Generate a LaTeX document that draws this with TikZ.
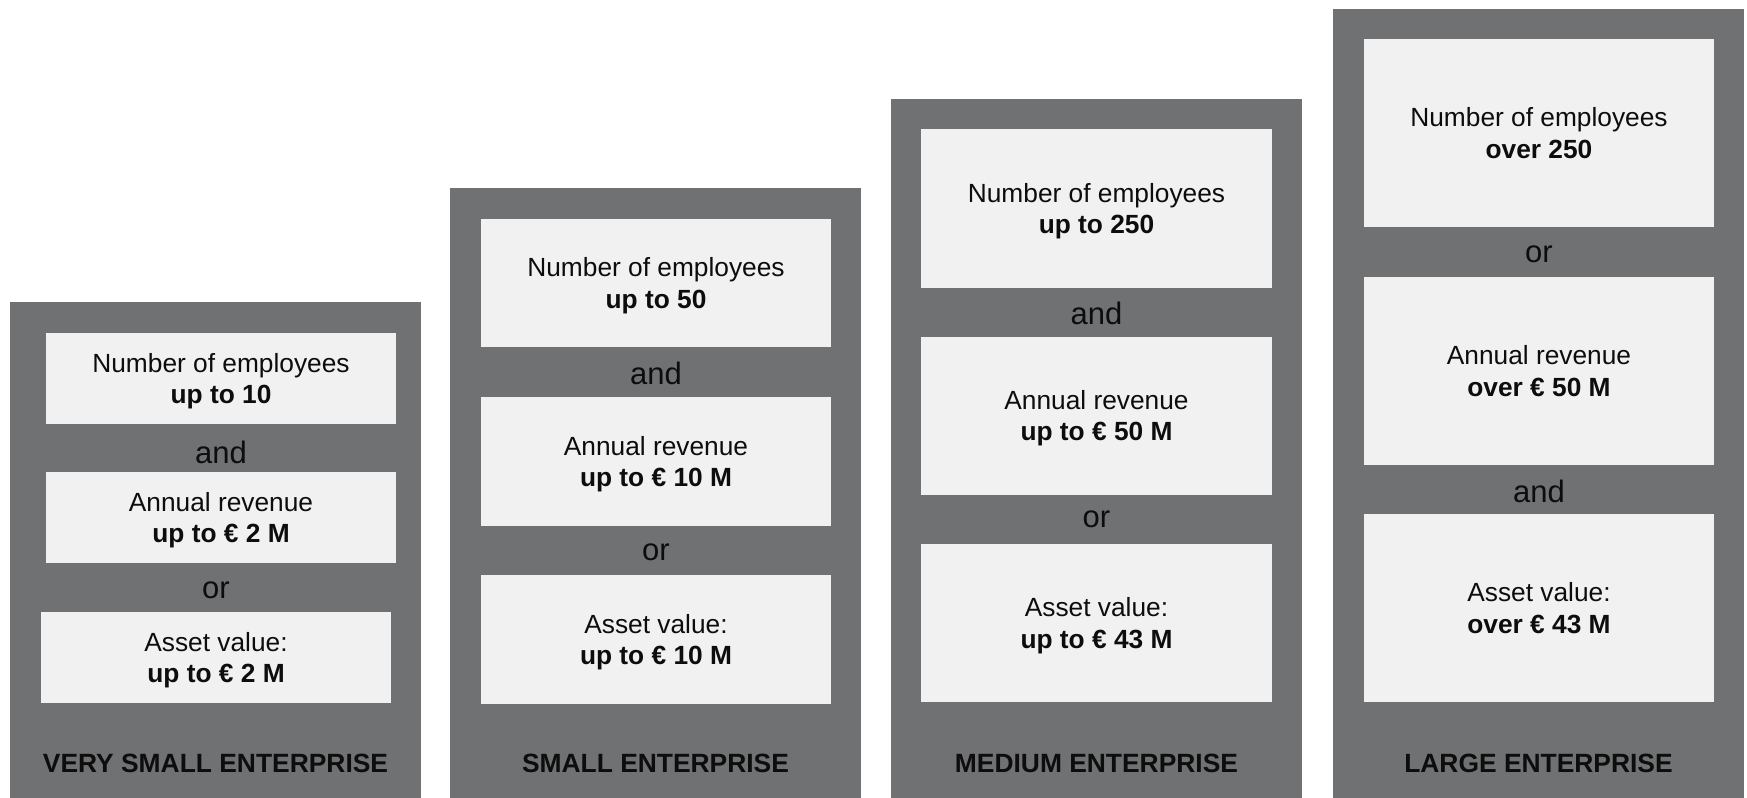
\documentclass[tikz,border=0pt]{standalone}
\usepackage{fontspec}
\setmainfont{Liberation Sans}
\usepackage{tikz}

\definecolor{colgray}{HTML}{707173}
\definecolor{boxgray}{HTML}{F1F1F1}
\definecolor{inkblack}{HTML}{0D0D0D}

\begin{document}
\begin{tikzpicture}[x=0.5pt,y=-0.5pt,
    crit/.style={fill=boxgray,text=inkblack,align=center,inner sep=0pt,
      text depth=0pt,font=\fontsize{13.15}{15.8}\selectfont},
    joiner/.style={text=inkblack,inner sep=0pt,font=\fontsize{15.5}{18}\selectfont},
    sizename/.style={text=inkblack,inner sep=0pt,font=\fontsize{13.2}{15.8}\selectfont\bfseries}]
  \useasboundingbox (0,0) rectangle (1747,798);

  % very small enterprise
  \fill [colgray] (10,302) rectangle (421,798);
  \node [crit,minimum width=175pt,minimum height=45.5pt] (vs-emp) at (221,378.5)
    {Number of employees\\\textbf{up to 10}};
  \node [joiner] (vs-and) at (221,452) {and};
  \node [crit,minimum width=175pt,minimum height=45.5pt] (vs-rev) at (221,517.5)
    {Annual revenue\\\textbf{up to € 2 M}};
  \node [joiner] (vs-or) at (216,590) {or};
  \node [crit,minimum width=175pt,minimum height=45.5pt] (vs-ast) at (216,657.5)
    {Asset value:\\\textbf{up to € 2 M}};
  \node [sizename] (vs-name) at (215.5,763) {VERY SMALL ENTERPRISE};

  % small enterprise
  \fill [colgray] (450,188) rectangle (861,798);
  \node [crit,minimum width=175pt,minimum height=64pt] (sm-emp) at (656,283)
    {Number of employees\\\textbf{up to 50}};
  \node [joiner] (sm-and) at (656,373) {and};
  \node [crit,minimum width=175pt,minimum height=64.5pt] (sm-rev) at (656,461.5)
    {Annual revenue\\\textbf{up to € 10 M}};
  \node [joiner] (sm-or) at (656,552.5) {or};
  \node [crit,minimum width=175pt,minimum height=64.5pt] (sm-ast) at (656,639.5)
    {Asset value:\\\textbf{up to € 10 M}};
  \node [sizename] (sm-name) at (655.5,763) {SMALL ENTERPRISE};

  % medium enterprise
  \fill [colgray] (891,99) rectangle (1302,798);
  \node [crit,minimum width=175.5pt,minimum height=79.5pt] (md-emp) at (1096.5,208.5)
    {Number of employees\\\textbf{up to 250}};
  \node [joiner] (md-and) at (1096.5,313.5) {and};
  \node [crit,minimum width=175.5pt,minimum height=79pt] (md-rev) at (1096.5,415.5)
    {Annual revenue\\\textbf{up to € 50 M}};
  \node [joiner] (md-or) at (1096.5,519) {or};
  \node [crit,minimum width=175.5pt,minimum height=79.3pt] (md-ast) at (1096.5,623)
    {Asset value:\\\textbf{up to € 43 M}};
  \node [sizename] (md-name) at (1096.5,763) {MEDIUM ENTERPRISE};

  % large enterprise
  \fill [colgray] (1333,9) rectangle (1744,798);
  \node [crit,minimum width=175pt,minimum height=94.25pt] (lg-emp) at (1539,133)
    {Number of employees\\\textbf{over 250}};
  \node [joiner] (lg-or) at (1539,254.5) {or};
  \node [crit,minimum width=175pt,minimum height=94.3pt] (lg-rev) at (1539,371)
    {Annual revenue\\\textbf{over € 50 M}};
  \node [joiner] (lg-and) at (1539,491) {and};
  \node [crit,minimum width=175pt,minimum height=94pt] (lg-ast) at (1539,608)
    {Asset value:\\\textbf{over € 43 M}};
  \node [sizename] (lg-name) at (1538.5,763) {LARGE ENTERPRISE};
\end{tikzpicture}
\end{document}
